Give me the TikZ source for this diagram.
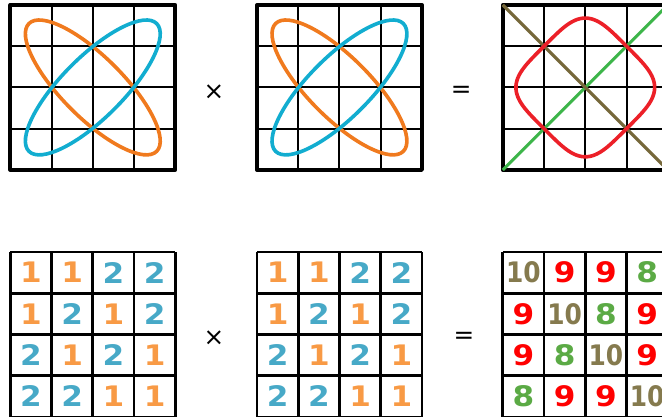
\documentclass[tikz,border=0pt]{standalone}
\usepackage{fontspec}
\setsansfont{DejaVu Sans}
\newfontfamily\numfont[FakeStretch=1.1]{DejaVu Sans Bold}
\newfontfamily\tenfont[FakeStretch=0.88]{DejaVu Sans Bold}
\usepackage{tikz}
\definecolor{ellOrange}{HTML}{F07A1E}
\definecolor{ellBlue}{HTML}{12ADD0}
\definecolor{prodRed}{HTML}{EC2028}
\definecolor{diagGreen}{HTML}{3DB54A}
\definecolor{diagOlive}{HTML}{76683A}
\definecolor{numOrange}{HTML}{F89A45}
\definecolor{numBlue}{HTML}{47A9C7}
\definecolor{numRed}{HTML}{FF0000}
\definecolor{numGreen}{HTML}{5BAA45}
\definecolor{numOlive}{HTML}{857A4E}
\tikzset{
  mat/thin/.style   = {line width=1.4pt, draw=black},
  mat/frame/.style  = {line width=2.6pt, draw=black, line join=round},
  mat/cells/.style  = {line width=1.9pt, draw=black},
  mat/curve/.style  = {line width=2.5pt},
  mat/diag/.style   = {line width=2.1pt},
  mat/op/.style     = {font=\sffamily\fontsize{17}{17}\selectfont, inner sep=0pt},
  mat/num/.style    = {font=\numfont\fontsize{19.5}{19.5}\selectfont, inner sep=0pt},
  mat/n1/.style     = {text=numOrange},
  mat/n2/.style     = {text=numBlue},
  mat/n8/.style     = {text=numGreen},
  mat/n9/.style     = {text=numRed},
  mat/n10/.style    = {text=numOlive, font=\tenfont\fontsize{19.5}{19.5}\selectfont},
}
\begin{document}
\begin{tikzpicture}
  \useasboundingbox (0,-10.11) rectangle (16.05,0);
  % top row: the curves
  \begin{scope}[shift={(0.25,-4.12)}]
    \draw[mat/thin] (0,0) grid (4,4);
    \draw[mat/frame] (0,0) rectangle (4,4);
    \draw[mat/curve, ellOrange, rotate around={-45:(2,2)}] (2,2) ellipse [x radius=2.19, y radius=0.74];
    \draw[mat/curve, ellBlue, rotate around={45:(2,2)}] (2,2) ellipse [x radius=2.19, y radius=0.74];
  \end{scope}
  \node[mat/op] (times1) at (5.19,-2.23) {×};
  \begin{scope}[shift={(6.23,-4.12)}]
    \draw[mat/thin] (0,0) grid (4,4);
    \draw[mat/frame] (0,0) rectangle (4,4);
    \draw[mat/curve, ellOrange, rotate around={-45:(2,2)}] (2,2) ellipse [x radius=2.19, y radius=0.74];
    \draw[mat/curve, ellBlue, rotate around={45:(2,2)}] (2,2) ellipse [x radius=2.19, y radius=0.74];
  \end{scope}
  \node[mat/op] (eq1) at (11.18,-2.23) {=};
  \begin{scope}[shift={(12.19,-4.12)}]
    \draw[mat/thin] (0,0) grid (4,4);
    \draw[mat/frame] (0,0) rectangle (4,4);
    \draw[mat/diag, diagGreen] (0,0) -- (4,4);
    \draw[mat/diag, diagOlive] (0,4) -- (4,0);
    \draw[mat/curve, prodRed, rotate around={45:(2,2)}]
      plot[domain=0.5:360.5, samples=181, smooth]
      ({2+1.414*cos(\x)/sqrt(abs(cos(\x)))}, {2+1.414*sin(\x)/sqrt(abs(sin(\x)))}) -- cycle;
  \end{scope}
  % bottom row: the numbers
  \begin{scope}[shift={(0.25,-10.11)}]
    \draw[mat/cells] (0,0) grid (4,4);
    \foreach \row [count=\r] in {{1,1,2,2},{1,2,1,2},{2,1,2,1},{2,2,1,1}}
      \foreach \v [count=\c] in \row
        \node[mat/num, mat/n\v] (a-\r-\c) at (\c-0.5,4.5-\r) {\v};
  \end{scope}
  \node[mat/op] (times2) at (5.19,-8.19) {×};
  \begin{scope}[shift={(6.23,-10.11)}]
    \draw[mat/cells] (0,0) grid (4,4);
    \foreach \row [count=\r] in {{1,1,2,2},{1,2,1,2},{2,1,2,1},{2,2,1,1}}
      \foreach \v [count=\c] in \row
        \node[mat/num, mat/n\v] (b-\r-\c) at (\c-0.5,4.5-\r) {\v};
  \end{scope}
  \node[mat/op] (eq2) at (11.25,-8.19) {=};
  \begin{scope}[shift={(12.19,-10.11)}]
    \draw[mat/cells] (0,0) grid (4,4);
    \foreach \row [count=\r] in {{10,9,9,8},{9,10,8,9},{9,8,10,9},{8,9,9,10}}
      \foreach \v [count=\c] in \row
        \node[mat/num, mat/n\v] (c-\r-\c) at (\c-0.5,4.5-\r) {\v};
  \end{scope}
\end{tikzpicture}
\end{document}
